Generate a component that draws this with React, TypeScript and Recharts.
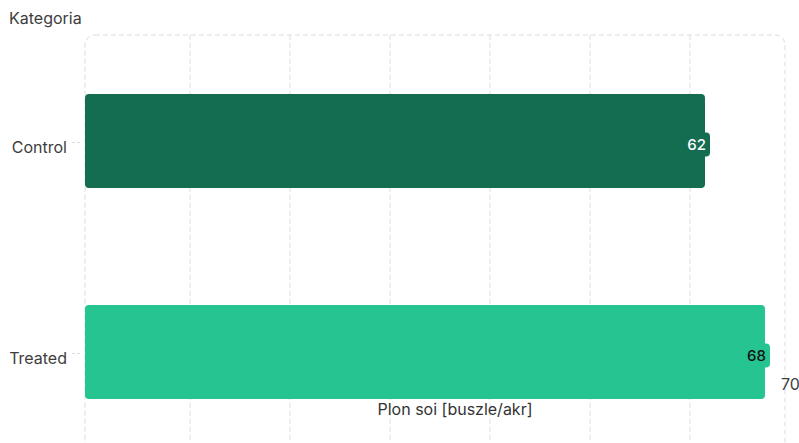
import React from "react";
import { BarChart, Bar, XAxis, YAxis, CartesianGrid, Cell, LabelList, ReferenceArea } from "recharts";

const categories = ["Control", "Treated"];
const yieldValues = [62, 68];
const barColors = ["#146c51", "#25c491"];
const labelTextColors = ["#ffffff", "#111111"];
const gridValues = [10.5, 20.5, 30.5, 40.5, 50.5, 60.5];
const axisTicks = [70];
const xDomain = [0, 70];

const data = categories.map((name, i) => ({ name, value: yieldValues[i] }));

const GRID = "#dddddd";
const TEXT = "#3d3d3d";

const YTick = (props: any) => {
  const { x, y, payload } = props;
  return (
    <g>
      <line x1={x - 13} x2={x - 3} y1={y + 2} y2={y + 2} stroke={GRID} strokeDasharray="3 2" />
      <text x={x - 18} y={y + 6} textAnchor="end" dominantBaseline="central" fontSize={16} fill={TEXT}>
        {payload.value}
      </text>
    </g>
  );
};

const XTick = (props: any) => {
  const { x, y, payload } = props;
  return (
    <text x={x - 4} y={y - 73} textAnchor="start" dominantBaseline="central" fontSize={16} fill={TEXT}>
      {payload.value}
    </text>
  );
};

const ValueLabel = (props: any) => {
  const { x, y, width, height, value, index } = props;
  const end = x + width;
  const cy = y + height / 2 + 3.5;
  return (
    <g>
      <rect x={end - 27} y={cy - 12} width={32} height={24} rx={4} fill={barColors[index]} />
      <text x={end + 1} y={cy} textAnchor="end" dominantBaseline="central" fontSize={15} fontWeight={500} fill={labelTextColors[index]}>
        {value}
      </text>
    </g>
  );
};

const Border = (props: any) => {
  const { x, y, width, height } = props;
  return (
    <rect x={x} y={y} width={width} height={height} rx={10} ry={10} fill="none" stroke={GRID} strokeDasharray="5 3" />
  );
};

export default function App() {
  return (
    <div
      style={{
        position: "absolute",
        left: 0,
        top: 0,
        width: 799,
        height: 443,
        overflow: "hidden",
        fontFamily: "Inter, 'Noto Sans', sans-serif",
        background: "#fff",
      }}
    >
      <BarChart
        width={799}
        height={500}
        data={data}
        layout="vertical"
        margin={{ top: 35, right: 14, left: 0, bottom: 13 }}
        barCategoryGap={0}
      >
        <CartesianGrid horizontal={false} verticalValues={gridValues} stroke={GRID} strokeDasharray="5 3" />
        <ReferenceArea x1={xDomain[0]} x2={xDomain[1]} shape={<Border />} ifOverflow="visible" />
        <XAxis
          type="number"
          domain={xDomain}
          ticks={axisTicks}
          height={30}
          tickSize={0}
          tickMargin={0}
          axisLine={false}
          tickLine={false}
          tick={<XTick />}
          label={{
            content: (p: any) => {
              const vb = p.viewBox;
              return (
                <text
                  x={vb.x + vb.width / 2 + 20}
                  y={vb.y - 48}
                  textAnchor="middle"
                  dominantBaseline="central"
                  fontSize={16}
                  fill="#333"
                >
                  Plon soi [buszle/akr]
                </text>
              );
            },
          }}
        />
        <YAxis
          type="category"
          dataKey="name"
          width={85}
          tickSize={0}
          tickMargin={0}
          axisLine={false}
          tickLine={false}
          tick={<YTick />}
          label={{
            content: (p: any) => {
              const vb = p.viewBox;
              return (
                <text x={vb.x + 9} y={vb.y - 17} textAnchor="start" dominantBaseline="central" fontSize={16} fill={TEXT}>
                  Kategoria
                </text>
              );
            },
          }}
        />
        <Bar dataKey="value" barSize={94} radius={4} isAnimationActive={false}>
          {data.map((d, i) => (
            <Cell key={d.name} fill={barColors[i]} />
          ))}
          <LabelList dataKey="value" content={<ValueLabel />} />
        </Bar>
      </BarChart>
    </div>
  );
}
